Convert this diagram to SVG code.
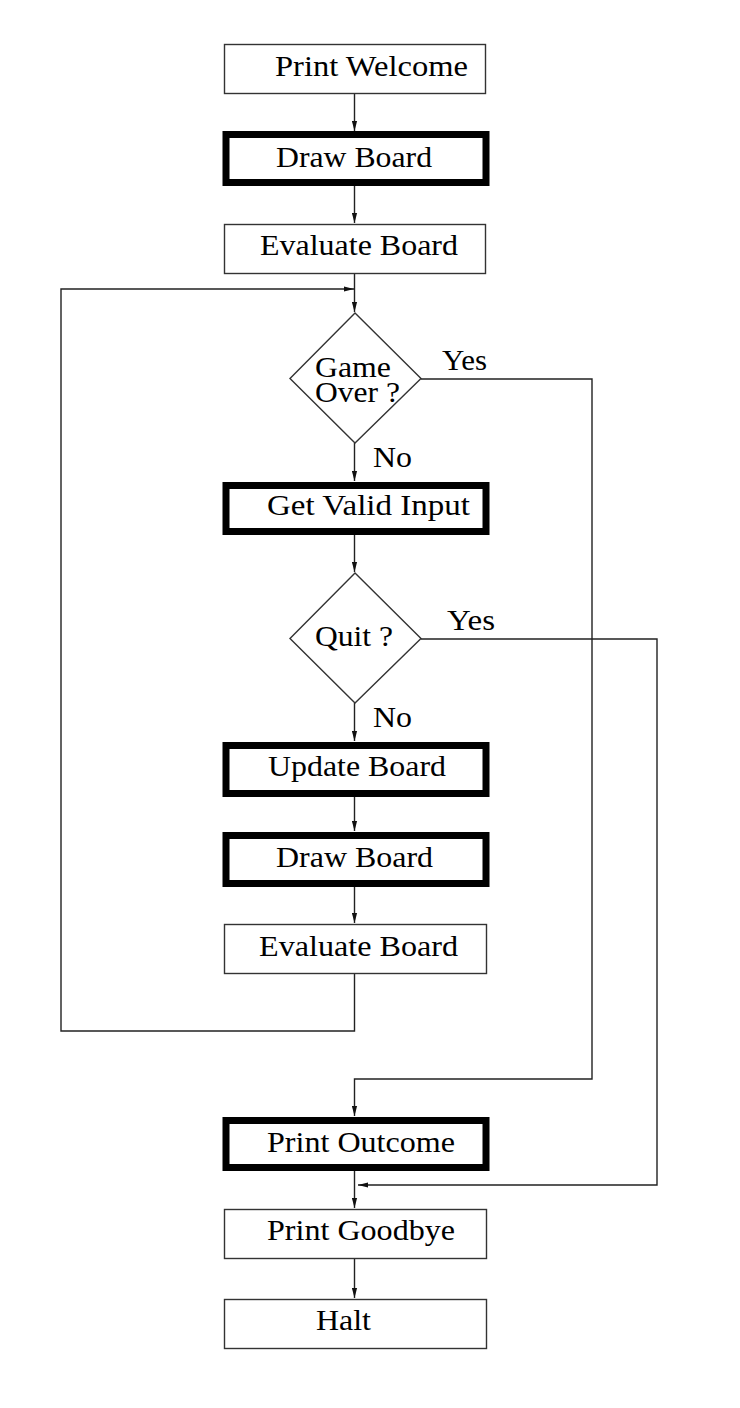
<svg xmlns="http://www.w3.org/2000/svg" width="740" height="1408" viewBox="0 0 740 1408">
<style>
.thin{fill:#fff;stroke:#333;stroke-width:1.4}
.thick{fill:#fff;stroke:#000;stroke-width:7}
.t{font-family:"Liberation Serif","Times New Roman",serif;font-size:30px;fill:#000}
.c{fill:none;stroke:#222;stroke-width:1.4}
</style>
<defs>
<marker id="ah" markerUnits="userSpaceOnUse" markerWidth="11" markerHeight="6" refX="10" refY="3" orient="auto">
<path d="M0,0.4 L10,3 L0,5.6 z" fill="#111"/>
</marker>
</defs>
<rect width="740" height="1408" fill="#fff"/>
<g id="connectors">
<path class="c" d="M354.5,93 V131" marker-end="url(#ah)"/>
<path class="c" d="M354.5,186 V223" marker-end="url(#ah)"/>
<path class="c" d="M354.5,273 V312" marker-end="url(#ah)"/>
<path class="c" d="M354.5,974 V1031 H61 V289 H354" marker-end="url(#ah)"/>
<path class="c" d="M354.5,443 V481" marker-end="url(#ah)"/>
<path class="c" d="M421,379 H592 V1079 H354.5 V1116" marker-end="url(#ah)"/>
<path class="c" d="M354.5,535 V572" marker-end="url(#ah)"/>
<path class="c" d="M354.5,703 V741" marker-end="url(#ah)"/>
<path class="c" d="M421,639 H657 V1185 H358" marker-end="url(#ah)"/>
<path class="c" d="M354.5,797 V831" marker-end="url(#ah)"/>
<path class="c" d="M354.5,887 V923" marker-end="url(#ah)"/>
<path class="c" d="M354.5,1171 V1208" marker-end="url(#ah)"/>
<path class="c" d="M354.5,1259 V1298" marker-end="url(#ah)"/>
</g>
<g id="labels">
<text class="t" x="442" y="370" textLength="45" lengthAdjust="spacingAndGlyphs">Yes</text>
<text class="t" x="373" y="467" textLength="39" lengthAdjust="spacingAndGlyphs">No</text>
<text class="t" x="447" y="630" textLength="48" lengthAdjust="spacingAndGlyphs">Yes</text>
<text class="t" x="373" y="727" textLength="39" lengthAdjust="spacingAndGlyphs">No</text>
</g>
<g id="print-welcome">
<rect class="thin" x="224.5" y="44.5" width="261" height="49"/>
<text class="t" x="275" y="76" textLength="193" lengthAdjust="spacingAndGlyphs">Print Welcome</text>
</g>
<g id="draw-board-1">
<rect class="thick" x="226" y="134.5" width="260" height="48"/>
<text class="t" x="276" y="167" textLength="156" lengthAdjust="spacingAndGlyphs">Draw Board</text>
</g>
<g id="evaluate-board-1">
<rect class="thin" x="224.5" y="224.5" width="261" height="49"/>
<text class="t" x="260" y="255" textLength="198" lengthAdjust="spacingAndGlyphs">Evaluate Board</text>
</g>
<g id="game-over">
<polygon class="thin" points="355,313 421,378.5 355,443 290,378.5"/>
<text class="t" x="315" y="377" textLength="76" lengthAdjust="spacingAndGlyphs">Game</text>
<text class="t" x="315" y="402" textLength="85" lengthAdjust="spacingAndGlyphs">Over ?</text>
</g>
<g id="get-valid-input">
<rect class="thick" x="226" y="485.5" width="260" height="46"/>
<text class="t" x="267" y="515" textLength="203" lengthAdjust="spacingAndGlyphs">Get Valid Input</text>
</g>
<g id="quit">
<polygon class="thin" points="355,573 421,638.5 355,703 290,638.5"/>
<text class="t" x="315" y="646" textLength="78" lengthAdjust="spacingAndGlyphs">Quit ?</text>
</g>
<g id="update-board">
<rect class="thick" x="226" y="745.5" width="260" height="48"/>
<text class="t" x="268" y="776" textLength="178" lengthAdjust="spacingAndGlyphs">Update Board</text>
</g>
<g id="draw-board-2">
<rect class="thick" x="226" y="835.5" width="260" height="48"/>
<text class="t" x="276" y="867" textLength="157" lengthAdjust="spacingAndGlyphs">Draw Board</text>
</g>
<g id="evaluate-board-2">
<rect class="thin" x="224.5" y="924.5" width="262" height="49"/>
<text class="t" x="259" y="956" textLength="199" lengthAdjust="spacingAndGlyphs">Evaluate Board</text>
</g>
<g id="print-outcome">
<rect class="thick" x="226" y="1120.5" width="260" height="47"/>
<text class="t" x="267" y="1152" textLength="188" lengthAdjust="spacingAndGlyphs">Print Outcome</text>
</g>
<g id="print-goodbye">
<rect class="thin" x="224.5" y="1209.5" width="262" height="49"/>
<text class="t" x="267" y="1240" textLength="188" lengthAdjust="spacingAndGlyphs">Print Goodbye</text>
</g>
<g id="halt">
<rect class="thin" x="224.5" y="1299.5" width="262" height="49"/>
<text class="t" x="316" y="1330" textLength="55" lengthAdjust="spacingAndGlyphs">Halt</text>
</g>
</svg>
